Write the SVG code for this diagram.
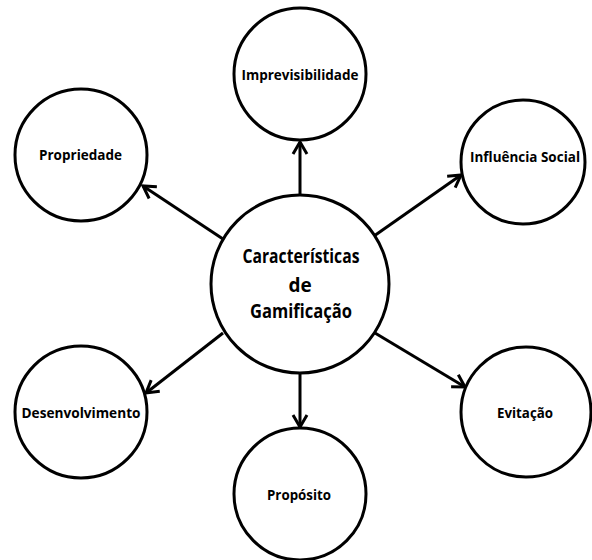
<svg xmlns="http://www.w3.org/2000/svg" width="592" height="560" viewBox="0 0 592 560">
  <style>
    .node circle { fill: #ffffff; stroke: #000000; stroke-width: 3; }
    .label { font-family: "Open Sans", "Liberation Sans", sans-serif; font-weight: bold; font-size: 15px; fill: #000000; text-anchor: middle; }
    .big { font-size: 19px; }
    .conn line { stroke: #000000; stroke-width: 3; marker-end: url(#arrow); }
  </style>
  <defs>
    <marker id="arrow" markerUnits="userSpaceOnUse" viewBox="-14 -9 16 18" markerWidth="16" markerHeight="18" refX="0" refY="0" orient="auto" overflow="visible">
      <path d="M-12,-7 L0,0 L-12,7" fill="none" stroke="#000000" stroke-width="3" stroke-linejoin="miter"/>
    </marker>
  </defs>
  <rect width="592" height="560" fill="#ffffff"/>
  <g id="connectors" class="conn">
    <line x1="300" y1="195" x2="300" y2="142"/>
    <line x1="223" y1="239" x2="143" y2="186"/>
    <line x1="374" y1="236" x2="461" y2="175"/>
    <line x1="223" y1="333" x2="146" y2="393"/>
    <line x1="375" y1="333" x2="465" y2="387"/>
    <line x1="300" y1="373" x2="300" y2="427"/>
  </g>
  <g id="center" class="node">
    <circle cx="300" cy="284" r="89"/>
    <text class="label big" x="301" y="263" textLength="117" lengthAdjust="spacingAndGlyphs">Características</text>
    <text class="label big" x="300" y="292">de</text>
    <text class="label big" x="301" y="318" textLength="102" lengthAdjust="spacingAndGlyphs">Gamificação</text>
  </g>
  <g id="imprevisibilidade" class="node">
    <circle cx="300" cy="74" r="66"/>
    <text class="label" x="300" y="80" textLength="117" lengthAdjust="spacingAndGlyphs">Imprevisibilidade</text>
  </g>
  <g id="propriedade" class="node">
    <circle cx="81" cy="155" r="66"/>
    <text class="label" x="80.5" y="160" textLength="83" lengthAdjust="spacingAndGlyphs">Propriedade</text>
  </g>
  <g id="influencia-social" class="node">
    <circle cx="523" cy="162" r="62"/>
    <text class="label" x="525" y="162" textLength="110" lengthAdjust="spacingAndGlyphs">Influência Social</text>
  </g>
  <g id="desenvolvimento" class="node">
    <circle cx="81" cy="412" r="66"/>
    <text class="label" x="81" y="418" textLength="119" lengthAdjust="spacingAndGlyphs">Desenvolvimento</text>
  </g>
  <g id="evitacao" class="node">
    <circle cx="526" cy="412" r="65"/>
    <text class="label" x="525" y="418" textLength="56" lengthAdjust="spacingAndGlyphs">Evitação</text>
  </g>
  <g id="proposito" class="node">
    <circle cx="300" cy="494" r="66"/>
    <text class="label" x="299" y="500" textLength="64" lengthAdjust="spacingAndGlyphs">Propósito</text>
  </g>
</svg>
